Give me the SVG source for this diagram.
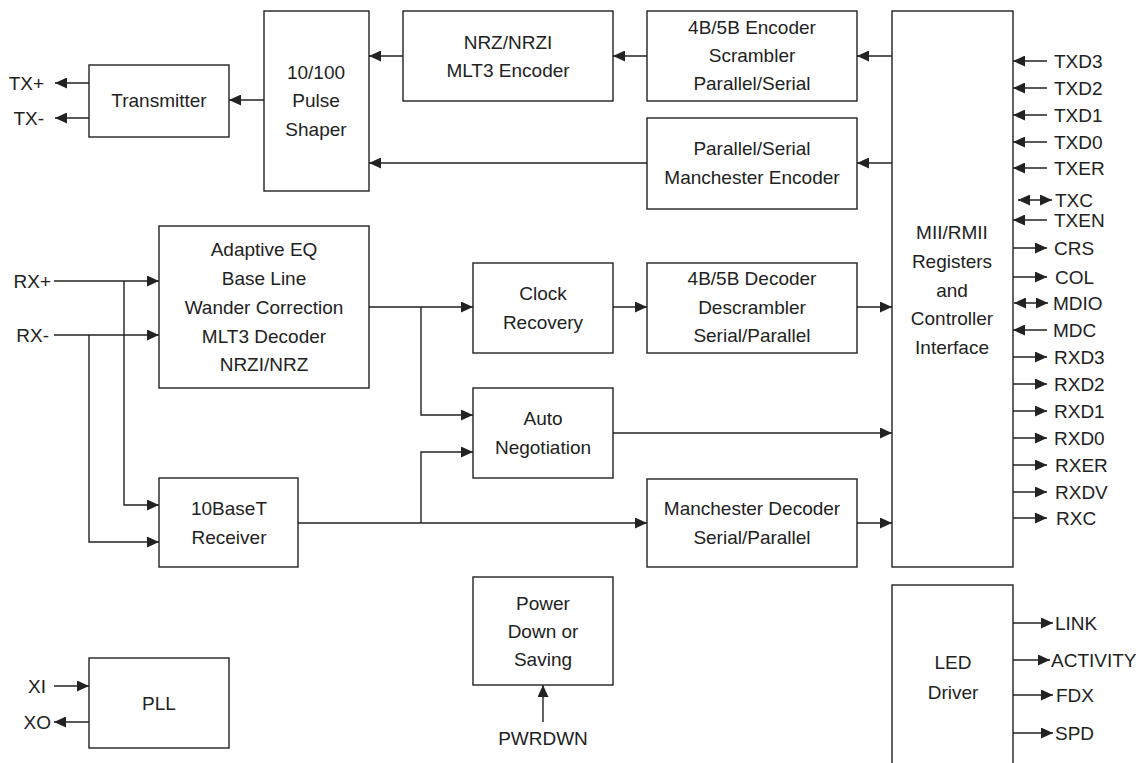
<svg xmlns="http://www.w3.org/2000/svg" width="1143" height="763" viewBox="0 0 1143 763">
<style>
.box{fill:#fff;stroke:#222;stroke-width:1.4}
.ln{fill:none;stroke:#222;stroke-width:1.4}
.ar{fill:none;stroke:#222;stroke-width:1.4;marker-end:url(#ah)}
.bi{fill:none;stroke:#222;stroke-width:1.4;marker-end:url(#ah);marker-start:url(#ah)}
text{font-family:"Liberation Sans",Arial,sans-serif;font-size:19px;fill:#222}
.c{text-anchor:middle}
.r{text-anchor:end}
</style>
<defs>
<marker id="ah" markerUnits="userSpaceOnUse" markerWidth="12" markerHeight="11" refX="12" refY="5.5" orient="auto-start-reverse" viewBox="0 0 12 11">
<path d="M0,0 L12,5.5 L0,11 z" fill="#222"/>
</marker>
</defs>
<rect width="1143" height="763" fill="#fff"/>

<g id="connectors">
<line class="ar" x1="892" y1="56" x2="857" y2="56"/>
<line class="ar" x1="647" y1="56" x2="613" y2="56"/>
<line class="ar" x1="403" y1="56" x2="369" y2="56"/>
<line class="ar" x1="892" y1="163" x2="857" y2="163"/>
<line class="ar" x1="647" y1="163" x2="369" y2="163"/>
<line class="ar" x1="264" y1="100" x2="229" y2="100"/>
<line class="ar" x1="89" y1="83" x2="55" y2="83"/>
<line class="ar" x1="89" y1="118" x2="55" y2="118"/>
<line class="ar" x1="54" y1="281" x2="159" y2="281"/>
<polyline class="ar" points="124,281 124,505 159,505"/>
<line class="ar" x1="54" y1="335" x2="159" y2="335"/>
<polyline class="ar" points="89,335 89,542 159,542"/>
<line class="ar" x1="369" y1="307" x2="473" y2="307"/>
<polyline class="ar" points="421,307 421,415 473,415"/>
<line class="ar" x1="613" y1="307" x2="647" y2="307"/>
<line class="ar" x1="857" y1="307" x2="892" y2="307"/>
<line class="ar" x1="613" y1="433" x2="892" y2="433"/>
<line class="ar" x1="298" y1="523" x2="647" y2="523"/>
<polyline class="ar" points="421,523 421,452 473,452"/>
<line class="ar" x1="857" y1="523" x2="892" y2="523"/>
<line class="ar" x1="54" y1="686" x2="89" y2="686"/>
<line class="ar" x1="89" y1="722" x2="54" y2="722"/>
<line class="ar" x1="543" y1="722" x2="543" y2="685"/>
<line class="ar" x1="1047" y1="61" x2="1013" y2="61"/>
<line class="ar" x1="1047" y1="88" x2="1013" y2="88"/>
<line class="ar" x1="1047" y1="115" x2="1013" y2="115"/>
<line class="ar" x1="1047" y1="142" x2="1013" y2="142"/>
<line class="ar" x1="1047" y1="168" x2="1013" y2="168"/>
<line class="bi" x1="1018" y1="200" x2="1052" y2="200"/>
<line class="ar" x1="1047" y1="220" x2="1013" y2="220"/>
<line class="ar" x1="1013" y1="248" x2="1047" y2="248"/>
<line class="ar" x1="1013" y1="277" x2="1047" y2="277"/>
<line class="bi" x1="1014" y1="303" x2="1048" y2="303"/>
<line class="ar" x1="1047" y1="330" x2="1013" y2="330"/>
<line class="ar" x1="1013" y1="357" x2="1047" y2="357"/>
<line class="ar" x1="1013" y1="384" x2="1047" y2="384"/>
<line class="ar" x1="1013" y1="411" x2="1047" y2="411"/>
<line class="ar" x1="1013" y1="438" x2="1047" y2="438"/>
<line class="ar" x1="1013" y1="465" x2="1047" y2="465"/>
<line class="ar" x1="1013" y1="492" x2="1047" y2="492"/>
<line class="ar" x1="1013" y1="518" x2="1047" y2="518"/>
<line class="ar" x1="1013" y1="623" x2="1053" y2="623"/>
<line class="ar" x1="1013" y1="660" x2="1050" y2="660"/>
<line class="ar" x1="1013" y1="695" x2="1053" y2="695"/>
<line class="ar" x1="1013" y1="733" x2="1053" y2="733"/>
</g>

<g id="transmitter"><rect class="box" x="89" y="65" width="140" height="72"/><text class="c" x="159" y="107">Transmitter</text></g>
<g id="pulse-shaper"><rect class="box" x="264" y="11" width="105" height="180"/><text class="c" x="316" y="79">10/100</text><text class="c" x="316" y="107">Pulse</text><text class="c" x="316" y="136">Shaper</text></g>
<g id="nrz-encoder"><rect class="box" x="403" y="11" width="210" height="90"/><text class="c" x="508" y="49">NRZ/NRZI</text><text class="c" x="508" y="77">MLT3 Encoder</text></g>
<g id="enc-4b5b"><rect class="box" x="647" y="11" width="210" height="90"/><text class="c" x="752" y="34">4B/5B Encoder</text><text class="c" x="752" y="62">Scrambler</text><text class="c" x="752" y="90">Parallel/Serial</text></g>
<g id="manchester-encoder"><rect class="box" x="647" y="118" width="210" height="91"/><text class="c" x="752" y="155">Parallel/Serial</text><text class="c" x="752" y="184">Manchester Encoder</text></g>
<g id="mii"><rect class="box" x="892" y="11" width="121" height="556"/><text class="c" x="952" y="239">MII/RMII</text><text class="c" x="952" y="268">Registers</text><text class="c" x="952" y="297">and</text><text class="c" x="952" y="325">Controller</text><text class="c" x="952" y="354">Interface</text></g>
<g id="adaptive-eq"><rect class="box" x="159" y="226" width="210" height="162"/><text class="c" x="264" y="256">Adaptive EQ</text><text class="c" x="264" y="285">Base Line</text><text class="c" x="264" y="314">Wander Correction</text><text class="c" x="264" y="343">MLT3 Decoder</text><text class="c" x="264" y="371">NRZI/NRZ</text></g>
<g id="clock-recovery"><rect class="box" x="473" y="263" width="140" height="90"/><text class="c" x="543" y="300">Clock</text><text class="c" x="543" y="329">Recovery</text></g>
<g id="dec-4b5b"><rect class="box" x="647" y="263" width="210" height="90"/><text class="c" x="752" y="285">4B/5B Decoder</text><text class="c" x="752" y="314">Descrambler</text><text class="c" x="752" y="342">Serial/Parallel</text></g>
<g id="auto-negotiation"><rect class="box" x="473" y="388" width="140" height="90"/><text class="c" x="543" y="425">Auto</text><text class="c" x="543" y="454">Negotiation</text></g>
<g id="receiver-10baset"><rect class="box" x="159" y="478" width="139" height="89"/><text class="c" x="229" y="515">10BaseT</text><text class="c" x="229" y="544">Receiver</text></g>
<g id="manchester-decoder"><rect class="box" x="647" y="479" width="210" height="88"/><text class="c" x="752" y="515">Manchester Decoder</text><text class="c" x="752" y="544">Serial/Parallel</text></g>
<g id="power-down"><rect class="box" x="473" y="577" width="140" height="108"/><text class="c" x="543" y="610">Power</text><text class="c" x="543" y="638">Down or</text><text class="c" x="543" y="666">Saving</text></g>
<g id="pll"><rect class="box" x="89" y="658" width="140" height="90"/><text class="c" x="159" y="710">PLL</text></g>
<g id="led-driver"><rect class="box" x="892" y="585" width="121" height="200"/><text class="c" x="953" y="669">LED</text><text class="c" x="953" y="699">Driver</text></g>

<g id="labels">
<text class="r" x="44" y="90">TX+</text>
<text class="r" x="44" y="125">TX-</text>
<text class="r" x="51" y="288">RX+</text>
<text class="r" x="49" y="342">RX-</text>
<text class="r" x="46" y="693">XI</text>
<text class="r" x="51" y="729">XO</text>
<text class="c" x="543" y="745">PWRDWN</text>
<text x="1054" y="68">TXD3</text>
<text x="1054" y="95">TXD2</text>
<text x="1054" y="122">TXD1</text>
<text x="1054" y="149">TXD0</text>
<text x="1054" y="175">TXER</text>
<text x="1055" y="207">TXC</text>
<text x="1054" y="227">TXEN</text>
<text x="1054" y="255">CRS</text>
<text x="1055" y="284">COL</text>
<text x="1053" y="310">MDIO</text>
<text x="1053" y="337">MDC</text>
<text x="1054" y="364">RXD3</text>
<text x="1054" y="391">RXD2</text>
<text x="1054" y="418">RXD1</text>
<text x="1054" y="445">RXD0</text>
<text x="1055" y="472">RXER</text>
<text x="1055" y="499">RXDV</text>
<text x="1056" y="525">RXC</text>
<text x="1055" y="630">LINK</text>
<text x="1051" y="667">ACTIVITY</text>
<text x="1056" y="702">FDX</text>
<text x="1055" y="740">SPD</text>
</g>
</svg>
